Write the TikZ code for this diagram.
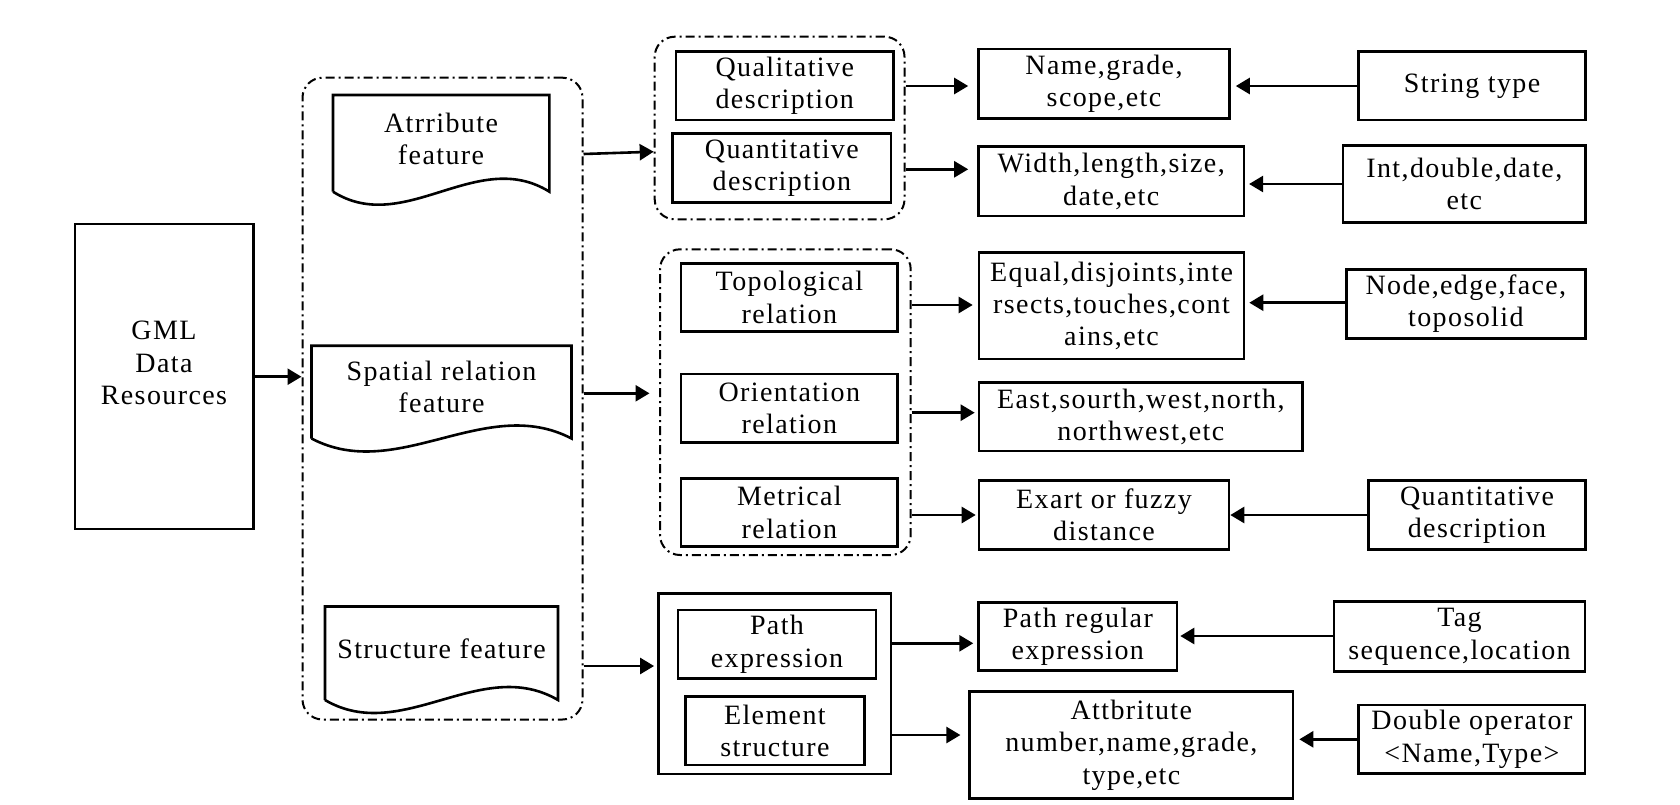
\documentclass[tikz,border=0pt]{standalone}
\usepackage{fontspec}
\setmainfont{Liberation Serif}[LetterSpace=5]
\usetikzlibrary{arrows.meta}
\begin{document}
\begin{tikzpicture}[x=0.5pt,y=-0.5pt,
  every node/.style={font=\fontsize{14pt}{16.2pt}\selectfont, align=center, inner sep=0pt},
  box/.style={draw, line width=1.3pt, rectangle},
  sz/.style 2 args={minimum width=#1*0.5pt, minimum height=#2*0.5pt},
  grp/.style={draw, line width=1pt, rounded corners=10pt, dash pattern=on 4.5pt off 2pt on 1pt off 2pt},
  arr/.style={line width=1.3pt, -{Triangle[length=7pt,width=8pt]}},
  doc/.style={line width=1.3pt}]
\useasboundingbox (0,0) rectangle (1680,804);

% GML
\node[box, sz={178.7}{305}] (gml) at (164.2,376.5) {};
\node (gmltext) at (164,363) {GML\\Data\\Resources};

% big container
\node[grp, sz={280}{641.8}] (cont) at (442.5,398.6) {};

% documents
\node (attr) at (441,139) {Atrribute\\feature};
\draw[doc] (333,191.7) -- (333,95) -- (549.4,95) -- (549.4,191.7)
  .. controls (477.2,146.7) and (404.4,236.7) .. (333,191.7);
\node (spat) at (441.5,386.7) {Spatial relation\\feature};
\draw[doc] (311.5,438.5) -- (311.5,345.7) -- (571.5,345.7) -- (571.5,438.5)
  .. controls (485.7,393.5) and (397.3,483.5) .. (311.5,438.5);
\node (struc) at (441.5,648.3) {Structure feature};
\draw[doc] (325,700) -- (325,606.5) -- (558,606.5) -- (558,700)
  .. controls (481.1,655) and (401.9,745) .. (325,700);

% top group
\node[grp, sz={249.8}{182.6}] (tg) at (779.6,128) {};
\node[box, sz={217.5}{68.3}] (q1) at (784.75,85.85) {Qualitative\\description};
\node[box, sz={218.3}{69.4}] (q2) at (781.85,168) {Quantitative\\description};
\node[box, sz={251}{69.3}] (n1) at (1104,83.65) {Name,grade,\\scope,etc};
\node[box, sz={227}{68.3}] (s1) at (1472.1,85.85) {String type};
\node[box, sz={265.3}{69.3}] (n2) at (1111.15,181.35) {Width,length,size,\\date,etc};
\node[box, sz={242.6}{77.4}] (s2) at (1464.3,184) {Int,double,date,\\etc};

% middle group
\node[grp, sz={250.7}{305.7}] (mg) at (785.35,402.15) {};
\node[box, sz={216.7}{68.4}] (t1) at (789.35,297.5) {Topological\\relation};
\node[box, sz={216.7}{68.3}] (t2) at (789.35,408.15) {Orientation\\relation};
\node[box, sz={216.7}{68.4}] (t3) at (789.35,512.5) {Metrical\\relation};
\node[box, sz={265}{106.3}] (e1) at (1111.5,305.85) {Equal,disjoints,inte\\rsects,touches,cont\\ains,etc};
\node[box, sz={238.9}{69}] (r1) at (1465.85,303.8) {Node,edge,face,\\toposolid};
\node[box, sz={323.7}{68.3}] (e2) at (1140.85,416.85) {East,sourth,west,north,\\northwest,etc};
\node[box, sz={250}{68.6}] (e3) at (1104,515) {Exart or fuzzy\\distance};
\node[box, sz={216.5}{68.6}] (r3) at (1477,515) {Quantitative\\description};

% structure group
\node[box, sz={232.6}{180.7}] (sg) at (774.7,683.65) {};
\node[box, sz={198}{68.7}] (p1) at (777,644.35) {Path\\expression};
\node[box, sz={179.2}{68.3}] (p2) at (774.9,730.85) {Element\\structure};
\node[box, sz={198.4}{68.4}] (f1) at (1077.8,636.5) {Path regular\\expression};
\node[box, sz={251}{70}] (g1) at (1459.5,636.7) {Tag\\sequence,location};
\node[box, sz={323.3}{106.6}] (f2) at (1131.35,745) {Attbritute\\number,name,grade,\\type,etc};
\node[box, sz={226.3}{68.3}] (g2) at (1471.85,739.15) {Double operator\\<Name,Type>};

% connectors
\draw[arr] (gml.east |- 0,376.7) -- (cont.west |- 0,376.7);
\draw[arr] (cont.east |- 0,154) -- (tg.west |- 0,151.7);
\draw[arr, shorten >=4.75pt] (cont.east |- 0,393.3) -- (mg.west |- 0,393.3);
\draw[arr, shorten >=1.5pt] (cont.east |- 0,666) -- (sg.west |- 0,666);

\draw[arr, shorten >=4.5pt] (tg.east |- 0,86) -- (n1.west |- 0,86);
\draw[arr, shorten >=2.5pt] (s1.west |- 0,86) -- (n1.east |- 0,86);
\draw[arr, shorten >=4.5pt] (tg.east |- 0,169.3) -- (n2.west |- 0,169.3);
\draw[arr, shorten >=2pt] (s2.west |- 0,184) -- (n2.east |- 0,184);

\draw[arr, shorten >=2.5pt] (mg.east |- 0,305) -- (e1.west |- 0,305);
\draw[arr, shorten >=2pt] (r1.west |- 0,302.7) -- (e1.east |- 0,302.7);
\draw[arr, shorten >=1.5pt] (mg.east |- 0,412.7) -- (e2.west |- 0,412.7);
\draw[arr, shorten >=1pt] (mg.east |- 0,515) -- (e3.west |- 0,515);
\draw[arr] (r3.west |- 0,515) -- (e3.east |- 0,515);

\draw[arr, shorten >=2pt] (sg.east |- 0,643.3) -- (f1.west |- 0,643.3);
\draw[arr, shorten >=1pt] (g1.west |- 0,636) -- (f1.east |- 0,636);
\draw[arr, shorten >=4pt] (sg.east |- 0,735) -- (f2.west |- 0,735);
\draw[arr, shorten >=2.5pt] (g2.west |- 0,739.3) -- (f2.east |- 0,739.3);
\end{tikzpicture}
\end{document}
